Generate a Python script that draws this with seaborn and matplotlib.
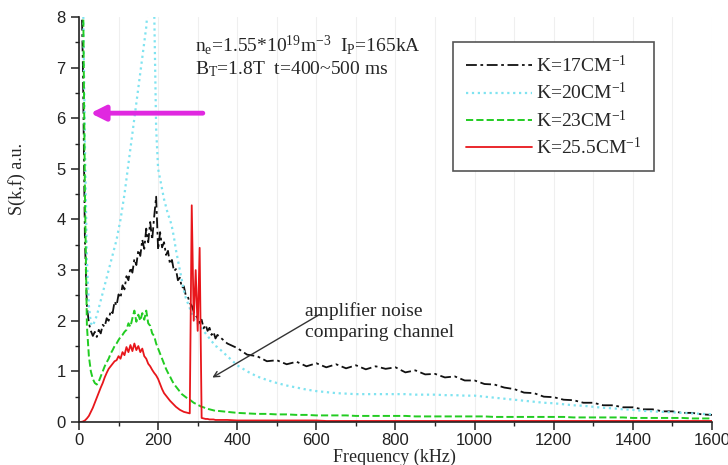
import matplotlib
matplotlib.use("Agg")
import matplotlib.pyplot as plt
import seaborn as sns
from matplotlib.ticker import MultipleLocator

# frequency grid (kHz): fine below 350 kHz, coarser above
freq = list(range(0, 350, 5)) + list(range(350, 1601, 25))

k17 = [9.0, 9.0, 7.0, 3.6, 2.3, 1.95, 1.8, 1.7, 1.78, 1.68,
       1.82, 1.75, 1.92, 1.88, 2.05, 2.0, 2.2, 2.15, 2.38, 2.3,
       2.52, 2.45, 2.7, 2.62, 2.88, 2.8, 3.05, 2.95, 3.22, 3.1,
       3.4, 3.28, 3.6, 3.42, 3.82, 3.55, 3.95, 3.6, 4.05, 4.45,
       3.4, 3.75, 3.45, 3.55, 3.3, 3.38, 3.12, 3.2, 2.98, 3.02,
       2.8, 2.85, 2.65, 2.68, 2.5, 2.48, 2.35, 2.3, 2.18, 2.1,
       2.05, 1.95, 2.02, 1.85, 1.92, 1.8, 1.86, 1.72, 1.78, 1.65] + \
      [1.72, 1.55, 1.46, 1.33, 1.3, 1.2, 1.22, 1.14, 1.19, 1.1,
       1.16, 1.08, 1.14, 1.06, 1.12, 1.04, 1.1, 1.05, 1.08, 0.98,
       1.02, 0.94, 0.95, 0.88, 0.9, 0.82, 0.82, 0.75, 0.74, 0.68,
       0.65, 0.58, 0.57, 0.5, 0.49, 0.44, 0.43, 0.38, 0.38, 0.33,
       0.33, 0.29, 0.29, 0.25, 0.25, 0.21, 0.21, 0.18, 0.18, 0.15, 0.14]

k20 = [9.0, 9.0, 8.6, 5.5, 3.2, 2.3, 1.95, 1.9, 2.0, 2.1,
       2.25, 2.4, 2.55, 2.7, 2.85, 3.0, 3.15, 3.3, 3.45, 3.6,
       3.8, 4.0, 4.25, 4.5, 4.8, 5.1, 5.4, 5.7, 6.0, 6.3,
       6.6, 6.9, 7.2, 7.5, 7.8, 8.3, 8.5, 8.6, 8.2, 5.8,
       5.0, 4.8, 4.6, 4.4, 4.25, 4.1, 4.0, 3.85, 3.65, 3.4,
       3.2, 3.0, 2.8, 2.6, 2.45, 2.35, 2.25, 2.15, 2.05, 2.0,
       1.95, 1.9, 1.85, 1.8, 1.75, 1.7, 1.65, 1.6, 1.55, 1.5] + \
      [1.48, 1.3, 1.12, 1.0, 0.9, 0.83, 0.77, 0.72, 0.68, 0.64,
       0.61, 0.59, 0.57, 0.56, 0.55, 0.55, 0.55, 0.55, 0.55, 0.55,
       0.54, 0.54, 0.54, 0.53, 0.53, 0.52, 0.52, 0.5, 0.48, 0.46,
       0.44, 0.42, 0.4, 0.38, 0.37, 0.35, 0.33, 0.32, 0.3, 0.28,
       0.27, 0.25, 0.24, 0.22, 0.21, 0.2, 0.19, 0.18, 0.17, 0.16, 0.15]

k23 = [9.0, 9.0, 8.8, 4.5, 1.9, 1.3, 1.0, 0.85, 0.77, 0.74,
       0.8, 0.9, 1.0, 1.1, 1.18, 1.25, 1.35, 1.42, 1.5, 1.55,
       1.62, 1.68, 1.72, 1.78, 1.82, 1.95, 1.88, 2.05, 2.2, 1.98,
       2.12, 2.0, 2.15, 2.02, 2.2, 1.95, 1.9, 1.75, 1.7, 1.55,
       1.45, 1.35, 1.25, 1.15, 1.05, 0.97, 0.9, 0.82, 0.75, 0.7,
       0.65, 0.6, 0.55, 0.52, 0.49, 0.46, 0.44, 0.41, 0.38, 0.36,
       0.34, 0.32, 0.3, 0.29, 0.27, 0.26, 0.25, 0.24, 0.23, 0.22] + \
      [0.22, 0.2, 0.18, 0.17, 0.16, 0.16, 0.15, 0.15, 0.14, 0.14,
       0.13, 0.13, 0.13, 0.13, 0.12, 0.12, 0.12, 0.12, 0.12, 0.12,
       0.11, 0.11, 0.11, 0.11, 0.11, 0.11, 0.11, 0.11, 0.1, 0.1,
       0.1, 0.1, 0.1, 0.1, 0.1, 0.1, 0.09, 0.09, 0.09, 0.09,
       0.09, 0.09, 0.08, 0.08, 0.08, 0.08, 0.08, 0.08, 0.07, 0.07, 0.07]

k255 = [0.0, 0.0, 0.01, 0.03, 0.07, 0.12, 0.2, 0.28, 0.38, 0.48,
        0.58, 0.68, 0.77, 0.88, 0.97, 1.05, 1.1, 1.15, 1.2, 1.22,
        1.3, 1.25, 1.38, 1.32, 1.48, 1.38, 1.52, 1.4, 1.55, 1.42,
        1.5, 1.38, 1.45, 1.3, 1.25, 1.15, 1.1, 1.03, 0.97, 0.92,
        0.85, 0.75, 0.65, 0.57, 0.52, 0.47, 0.42, 0.38, 0.34, 0.3,
        0.27, 0.24, 0.22, 0.2, 0.19, 0.18, 0.17, 4.28, 2.0, 3.0,
        1.8, 3.44, 0.08, 0.07, 0.06, 0.06, 0.05, 0.05, 0.05, 0.04] + \
       [0.04, 0.04, 0.03, 0.03, 0.03, 0.03, 0.03, 0.03, 0.03, 0.03,
        0.03, 0.02, 0.02, 0.02, 0.02, 0.02, 0.02, 0.02, 0.02, 0.02,
        0.02, 0.02, 0.02, 0.02, 0.02, 0.02, 0.02, 0.02, 0.02, 0.02,
        0.02, 0.02, 0.02, 0.02, 0.02, 0.02, 0.02, 0.02, 0.02, 0.02,
        0.02, 0.02, 0.02, 0.02, 0.02, 0.02, 0.02, 0.02, 0.02, 0.02, 0.02]

labels = ["K=17CM$^{-1}$", "K=20CM$^{-1}$", "K=23CM$^{-1}$", "K=25.5CM$^{-1}$"]

sns.set_style("ticks")
plt.rcParams["font.family"] = ["Liberation Serif", "DejaVu Serif"]
plt.rcParams["mathtext.default"] = "regular"

fig = plt.figure(figsize=(7.28, 4.65), dpi=100)
ax = fig.add_axes([0.1085, 0.0925, 0.8695, 0.871])

sns.lineplot(x=freq, y=k17, ax=ax, color="#111111", linestyle=(0, (6, 2, 1.5, 2)), lw=1.3, label=labels[0])
sns.lineplot(x=freq, y=k20, ax=ax, color="#7fe3f0", linestyle=":", lw=1.6, label=labels[1])
sns.lineplot(x=freq, y=k23, ax=ax, color="#22cc22", linestyle="--", lw=1.4, label=labels[2])
sns.lineplot(x=freq, y=k255, ax=ax, color="#e8161b", linestyle="-", lw=1.3, label=labels[3])

ax.set_xlim(0, 1600)
ax.set_ylim(0, 8)
ax.xaxis.set_major_locator(MultipleLocator(200))
ax.xaxis.set_minor_locator(MultipleLocator(100))
ax.yaxis.set_major_locator(MultipleLocator(1))
ax.yaxis.set_minor_locator(MultipleLocator(0.5))
ax.grid(axis="x", which="both", color="#efefef", lw=0.8)
ax.set_axisbelow(True)
for s in ["top", "right"]:
    ax.spines[s].set_visible(False)
for s in ["left", "bottom"]:
    ax.spines[s].set_linewidth(1.2)
    ax.spines[s].set_color("#222222")
ax.tick_params(which="major", direction="out", length=6, width=1.1, colors="#222222")
ax.tick_params(which="minor", direction="out", length=3, width=1.0, colors="#222222")
ax.tick_params(axis="x", pad=2)
for t in ax.get_xticklabels() + ax.get_yticklabels():
    t.set_family("Liberation Sans")
    t.set_fontsize(12)

ax.set_xlabel("Frequency (kHz)", fontsize=13, va="center")
ax.set_ylabel("S(k,f) a.u.", fontsize=13, va="center")
ax.xaxis.set_label_coords(0.498, -0.088)
ax.yaxis.set_label_coords(-0.098, 0.6)

ax.text(293, 7.45, "n$_e$=1.55*10$^{19}$m$^{-3}$  I$_P$=165kA", fontsize=14, va="center")
ax.text(293, 6.96, "B$_T$=1.8T  t=400~500 ms", fontsize=14, va="center")

ax.annotate("", xy=(22, 6.1), xytext=(320, 6.1),
            arrowprops=dict(arrowstyle="-|>", color="#e028e0", lw=3.5, mutation_scale=22))
ax.annotate("", xy=(331, 0.85), xytext=(614, 2.15),
            arrowprops=dict(arrowstyle="->", color="#333333", lw=1.0))
ax.text(571, 2.19, "amplifier noise", fontsize=14, va="center")
ax.text(571, 1.76, "comparing channel", fontsize=14, va="center")

leg = ax.legend(loc="upper right", bbox_to_anchor=(0.908, 0.938), fontsize=14,
                handlelength=3.4, handletextpad=0.2, labelspacing=0.32,
                borderpad=0.65, borderaxespad=0, fancybox=False, framealpha=1)
leg.get_frame().set_edgecolor("#555555")
leg.get_frame().set_linewidth(1.2)

fig.savefig("out.png", dpi=100)
